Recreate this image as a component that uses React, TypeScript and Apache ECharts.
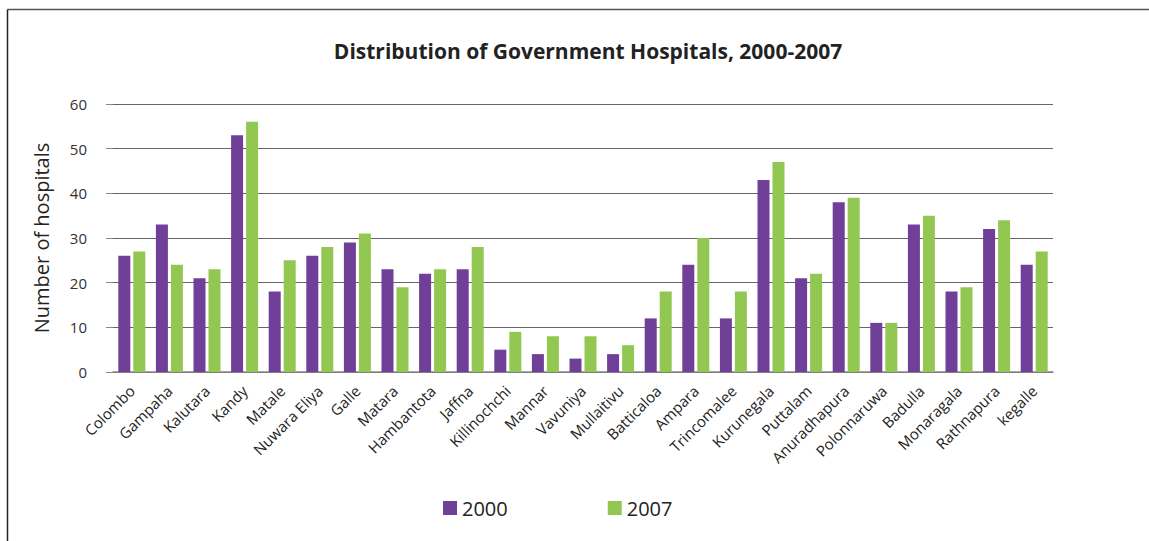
import React, { useEffect, useRef } from "react";
import * as echarts from "echarts";

const districts = [
  "Colombo", "Gampaha", "Kalutara", "Kandy", "Matale", "Nuwara Eliya", "Galle", "Matara",
  "Hambantota", "Jaffna", "Killinochchi", "Mannar", "Vavuniya", "Mullaitivu", "Batticaloa",
  "Ampara", "Trincomalee", "Kurunegala", "Puttalam", "Anuradhapura", "Polonnaruwa",
  "Badulla", "Monaragala", "Rathnapura", "kegalle",
];
const hospitals2000 = [26, 33, 21, 53, 18, 26, 29, 23, 22, 23, 5, 4, 3, 4, 12, 24, 12, 43, 21, 38, 11, 33, 18, 32, 24];
const hospitals2007 = [27, 24, 23, 56, 25, 28, 31, 19, 23, 28, 9, 8, 8, 6, 18, 30, 18, 47, 22, 39, 11, 35, 19, 34, 27];
const yTicks = { min: 0, max: 60, interval: 10 };

const FONT = "'Open Sans', 'DejaVu Sans', sans-serif";

export default function App() {
  const ref = useRef<HTMLDivElement>(null);
  useEffect(() => {
    if (!ref.current) return;
    const chart = echarts.init(ref.current, null, { renderer: "svg" });
    chart.setOption({
      animation: false,
      backgroundColor: "#ffffff",
      title: {
        text: "Distribution of Government Hospitals, 2000-2007",
        left: 583,
        textAlign: "center",
        top: 35,
        textStyle: { fontFamily: FONT, fontSize: 21, fontWeight: "bold", color: "#222" },
      },
      legend: {
        left: 438,
        top: 493,
        itemWidth: 14,
        itemHeight: 14,
        itemGap: 100,
        icon: "rect",
        textStyle: { fontFamily: FONT, fontSize: 20, color: "#222" },
        data: ["2000", "2007"],
      },
      grid: { left: 113, right: 96, top: 104, bottom: 169, containLabel: false },
      xAxis: {
        type: "category",
        data: districts,
        axisLine: { show: true, lineStyle: { color: "#888", width: 1.5 } },
        axisTick: { show: false },
        axisLabel: {
          interval: 0,
          rotate: 45,
          margin: 16,
          fontFamily: FONT,
          fontSize: 15,
          color: "#222",
        },
      },
      yAxis: {
        type: "value",
        min: yTicks.min,
        max: yTicks.max,
        interval: yTicks.interval,
        name: "Number of hospitals",
        nameLocation: "middle",
        nameGap: 62,
        nameTextStyle: { fontFamily: FONT, fontSize: 20, color: "#222" },
        axisLine: { show: false },
        axisTick: { show: true, length: 7, lineStyle: { color: "#888" } },
        axisLabel: { margin: 26, fontFamily: FONT, fontSize: 15, color: "#333" },
        splitLine: { show: true, lineStyle: { color: "#666", width: 1.2 } },
      },
      series: [
        {
          name: "2000",
          type: "bar",
          data: hospitals2000,
          barWidth: 12,
          barGap: "25%",
          itemStyle: { color: "#703f98" },
        },
        {
          name: "2007",
          type: "bar",
          data: hospitals2007,
          barWidth: 12,
          itemStyle: { color: "#92c852" },
        },
      ],
      graphic: [
        { type: "line", shape: { x1: 7.5, y1: 9.5, x2: 1149, y2: 9.5 }, style: { stroke: "#555", lineWidth: 1.5 } },
        { type: "line", shape: { x1: 7.5, y1: 9.5, x2: 7.5, y2: 541 }, style: { stroke: "#222", lineWidth: 1.5 } },
      ],
    });
    return () => chart.dispose();
  }, []);
  return (
    <div
      ref={ref}
      style={{ position: "fixed", left: 0, top: 0, width: 1149, height: 541, background: "#fff" }}
    />
  );
}
